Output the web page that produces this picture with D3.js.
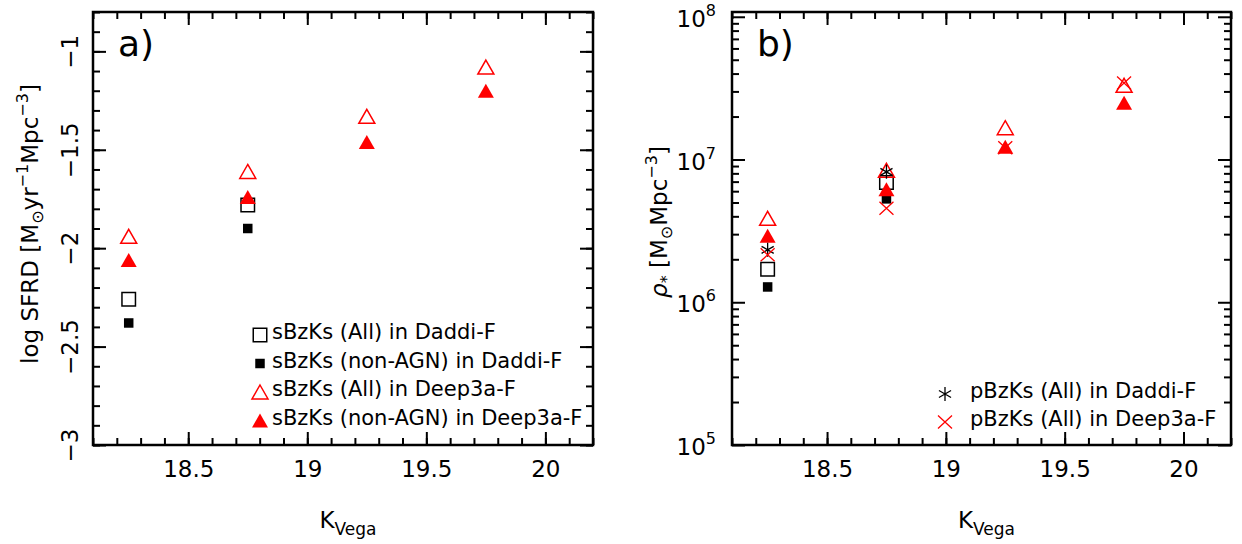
<!DOCTYPE html>
<html><head><meta charset="utf-8">
<script src="https://cdn.jsdelivr.net/npm/d3@7"></script>
<style>
body{margin:0;background:#fff}
svg text{font-family:"DejaVu Sans",sans-serif;fill:#000}
</style>
</head><body>
<svg id="chart" width="1242" height="544"></svg>
<script>
// ---------- data ----------
const kBins = [18.25, 18.75, 19.25, 19.75];
const xMajorTicks = [18.5, 19, 19.5, 20];
const sfrdTicks = [-3, -2.5, -2, -1.5, -1];
const massTicks = [1e5, 1e6, 1e7, 1e8];

// panel a: log SFRD
const sfrdDaddiAll      = [-2.26, -1.78];
const sfrdDaddiNonAGN   = [-2.38, -1.90];
const sfrdDeep3aAll     = [-1.94, -1.61, -1.33, -1.08];
const sfrdDeep3aNonAGN  = [-2.06, -1.74, -1.46, -1.20];

// panel b: stellar mass density
const massDaddiAll      = [1.70e6, 6.9e6];
const massDaddiNonAGN   = [1.28e6, 5.3e6];
const massDeep3aAll     = [3.87e6, 8.4e6, 1.67e7, 3.31e7];
const massDeep3aNonAGN  = [2.92e6, 6.2e6, 1.23e7, 2.50e7];
const massPbzkDaddi     = [2.33e6, 8.2e6];
const massPbzkDeep3a    = [2.15e6, 4.55e6, 1.21e7, 3.44e7];

const legendA = ["sBzKs (All) in Daddi-F", "sBzKs (non-AGN) in Daddi-F",
                 "sBzKs (All) in Deep3a-F", "sBzKs (non-AGN) in Deep3a-F"];
const legendB = ["pBzKs (All) in Daddi-F", "pBzKs (All) in Deep3a-F"];

// ---------- setup ----------
const svg = d3.select("#chart");
const RED = "#ff0000";

const xA = d3.scaleLinear([18.1, 20.2], [93, 593]);
const yA = d3.scaleLinear([-3, -0.8], [445, 12]);
const xB = d3.scaleLinear([18.1, 20.2], [732, 1231]);
const yB = d3.scaleLog([1e5, 1.08e8], [445, 12]);

// marker shapes
const shapes = {
  openSquare:   {d: "M-6.75,-6.75H6.75V6.75H-6.75Z", fill: "none", sw: 1.5},
  filledSquare: {d: "M-4.75,-4.75H4.75V4.75H-4.75Z", sw: 0},
  openTri:      {d: "M0,-7L8,7H-8Z", fill: "none", sw: 1.5},
  filledTri:    {d: "M0,-7L8,7H-8Z", sw: 0},
  asterisk:     {d: "M0,-7V7M-6.06,-3.5L6.06,3.5M-6.06,3.5L6.06,-3.5", fill: "none", sw: 1.3},
  cross:        {d: "M-7,-6.5L7,6.5M-7,6.5L7,-6.5", fill: "none", sw: 1.3}
};
function drawMarkers(g, vals, xs, ys, shape, color) {
  const s = shapes[shape];
  g.selectAll(null).data(vals).enter().append("path")
    .attr("d", s.d)
    .attr("transform", (v, i) => `translate(${xs(kBins[i])},${ys(v)})`)
    .attr("fill", s.fill === "none" ? "none" : color)
    .attr("stroke", s.sw ? color : "none")
    .attr("stroke-width", s.sw);
}
function marker(g, x, y, shape, color) {
  const s = shapes[shape];
  g.append("path").attr("d", s.d).attr("transform", `translate(${x},${y})`)
    .attr("fill", s.fill === "none" ? "none" : color)
    .attr("stroke", s.sw ? color : "none").attr("stroke-width", s.sw);
}

function styleAxis(g) {
  g.select(".domain").remove();
  g.attr("font-family", null).attr("font-size", null);
  g.selectAll("line").attr("stroke", "#000").attr("stroke-width", 2);
}

function frameAndXAxes(x, y, minorY, majorY) {
  const [x0, x1] = x.range(), [yb, yt] = y.range();
  const xMinor = d3.range(18.1, 20.21, 0.1).map(v => +v.toFixed(1));
  // bottom
  svg.append("g").attr("transform", `translate(0,${yb})`)
    .call(d3.axisBottom(x).tickValues(xMinor).tickSize(-7).tickFormat("")).call(styleAxis);
  const gb = svg.append("g").attr("transform", `translate(0,${yb})`)
    .call(d3.axisBottom(x).tickValues(xMajorTicks).tickSize(-13).tickPadding(16)
      .tickFormat(d3.format("")));
  styleAxis(gb);
  gb.selectAll("text").attr("font-size", 23).attr("fill", "#000");
  // top
  svg.append("g").attr("transform", `translate(0,${yt})`)
    .call(d3.axisTop(x).tickValues(xMinor).tickSize(-7).tickFormat("")).call(styleAxis);
  svg.append("g").attr("transform", `translate(0,${yt})`)
    .call(d3.axisTop(x).tickValues(xMajorTicks).tickSize(-13).tickFormat("")).call(styleAxis);
  // right
  svg.append("g").attr("transform", `translate(${x1},0)`)
    .call(d3.axisRight(y).tickValues(minorY).tickSize(-7).tickFormat("")).call(styleAxis);
  svg.append("g").attr("transform", `translate(${x1},0)`)
    .call(d3.axisRight(y).tickValues(majorY).tickSize(-13).tickFormat("")).call(styleAxis);
  // left minor
  svg.append("g").attr("transform", `translate(${x0},0)`)
    .call(d3.axisLeft(y).tickValues(minorY).tickSize(-7).tickFormat("")).call(styleAxis);
  // frame
  svg.append("rect").attr("x", x0).attr("y", yt).attr("width", x1 - x0).attr("height", yb - yt)
    .attr("fill", "none").attr("stroke", "#000").attr("stroke-width", 2.5);
  // x title
  const t = svg.append("text").attr("x", (x0 + x1) / 2 + 5).attr("y", 528)
    .attr("text-anchor", "middle").attr("font-size", 23);
  t.append("tspan").text("K");
  t.append("tspan").attr("font-size", 17).attr("dy", 7).text("Vega");
}

// ---------- panel a ----------
{
  const minorY = d3.range(-3, -0.79, 0.1).map(v => +v.toFixed(1));
  frameAndXAxes(xA, yA, minorY, sfrdTicks);
  const gl = svg.append("g").attr("transform", `translate(93,0)`)
    .call(d3.axisLeft(yA).tickValues(sfrdTicks).tickSize(-13).tickFormat(d3.format("")));
  styleAxis(gl);
  gl.selectAll("text").attr("font-size", 23).attr("fill", "#000")
    .attr("transform", "rotate(-90)").attr("x", 0).attr("y", -15).attr("dy", null)
    .attr("text-anchor", "middle");

  const yl = svg.append("text").attr("transform", "translate(38,224) rotate(-90)")
    .attr("text-anchor", "middle").attr("font-size", 23);
  yl.append("tspan").text("log SFRD [M");
  yl.append("tspan").attr("font-size", 16).attr("dy", 5).text("⊙");
  yl.append("tspan").attr("dy", -5).text("yr");
  yl.append("tspan").attr("font-size", 16).attr("dy", -10).text("−1");
  yl.append("tspan").attr("dy", 10).text("Mpc");
  yl.append("tspan").attr("font-size", 16).attr("dy", -10).text("−3");
  yl.append("tspan").attr("dy", 10).text("]");

  svg.append("text").attr("x", 118).attr("y", 56).attr("font-size", 36).text("a)");

  const g = svg.append("g");
  drawMarkers(g, sfrdDaddiAll, xA, yA, "openSquare", "#000");
  drawMarkers(g, sfrdDaddiNonAGN, xA, yA, "filledSquare", "#000");
  drawMarkers(g, sfrdDeep3aAll, xA, yA, "openTri", RED);
  drawMarkers(g, sfrdDeep3aNonAGN, xA, yA, "filledTri", RED);

  const lg = svg.append("g");
  const legShapes = [["openSquare", "#000"], ["filledSquare", "#000"], ["openTri", RED], ["filledTri", RED]];
  legendA.forEach((s, i) => {
    const by = 339 + i * 28.5;
    marker(lg, 260, by - 4, legShapes[i][0], legShapes[i][1]);
    lg.append("text").attr("x", 272).attr("y", by).attr("font-size", 21).text(s);
  });
}

// ---------- panel b ----------
{
  const minorY = [];
  [1e5, 1e6, 1e7].forEach(d => { for (let k = 2; k <= 9; k++) minorY.push(d * k); });
  frameAndXAxes(xB, yB, minorY, massTicks);
  const gl = svg.append("g").attr("transform", `translate(732,0)`)
    .call(d3.axisLeft(yB).tickValues(massTicks).tickSize(-13).tickFormat(""));
  styleAxis(gl);
  gl.selectAll("text").each(function(d) {
    const t = d3.select(this).attr("font-size", 23).attr("fill", "#000")
      .attr("x", -16).attr("y", 9.5).attr("dy", null).attr("text-anchor", "end");
    t.text(null);
    t.append("tspan").text("10");
    t.append("tspan").attr("font-size", 16).attr("dy", -11).text(Math.round(Math.log10(d)));
  });

  const yl = svg.append("text").attr("transform", "translate(667,222) rotate(-90)")
    .attr("text-anchor", "middle").attr("font-size", 23);
  yl.append("tspan").attr("font-style", "italic").text("ρ");
  yl.append("tspan").attr("font-size", 16).attr("dy", 5).text("*");
  yl.append("tspan").attr("dy", -5).text(" [M");
  yl.append("tspan").attr("font-size", 16).attr("dy", 5).text("⊙");
  yl.append("tspan").attr("dy", -5).text("Mpc");
  yl.append("tspan").attr("font-size", 16).attr("dy", -10).text("−3");
  yl.append("tspan").attr("dy", 10).text("]");

  svg.append("text").attr("x", 757).attr("y", 56).attr("font-size", 36).text("b)");

  const g = svg.append("g");
  drawMarkers(g, massDaddiAll, xB, yB, "openSquare", "#000");
  drawMarkers(g, massDaddiNonAGN, xB, yB, "filledSquare", "#000");
  drawMarkers(g, massDeep3aAll, xB, yB, "openTri", RED);
  drawMarkers(g, massDeep3aNonAGN, xB, yB, "filledTri", RED);
  drawMarkers(g, massPbzkDaddi, xB, yB, "asterisk", "#000");
  drawMarkers(g, massPbzkDeep3a, xB, yB, "cross", RED);

  const lg = svg.append("g");
  const legShapes = [["asterisk", "#000"], ["cross", RED]];
  legendB.forEach((s, i) => {
    const by = 398 + i * 28;
    marker(lg, 945, by - 4, legShapes[i][0], legShapes[i][1]);
    lg.append("text").attr("x", 970).attr("y", by).attr("font-size", 21).text(s);
  });
}
</script>
</body></html>
